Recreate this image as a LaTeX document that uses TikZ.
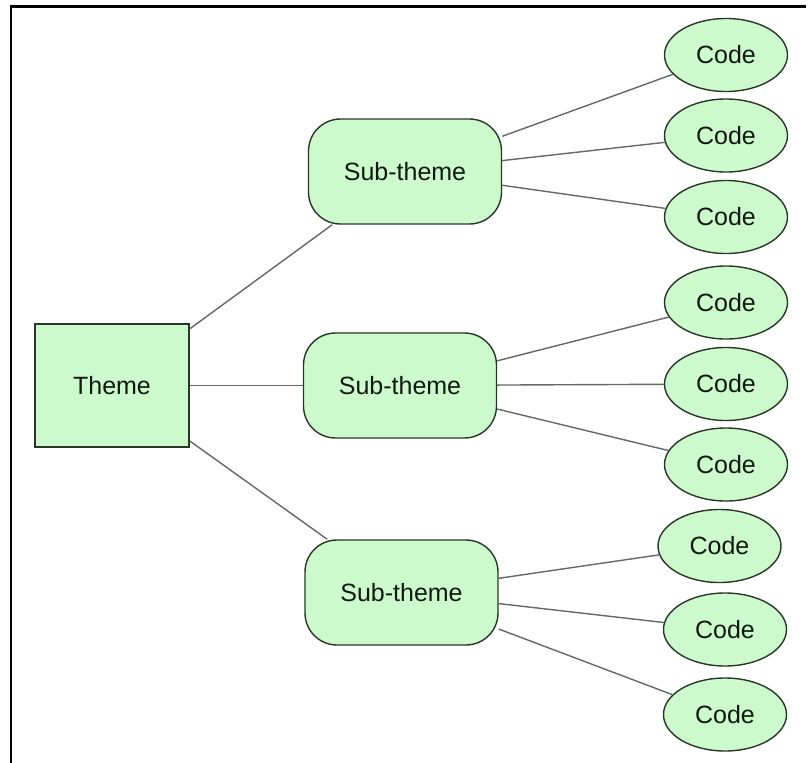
\documentclass[tikz,border=0pt]{standalone}
\usepackage{fontspec}
\setmainfont{Liberation Sans}
\usetikzlibrary{shapes.geometric}

\definecolor{boxfill}{RGB}{205,250,205}
\definecolor{boxline}{RGB}{40,55,40}
\definecolor{linkline}{RGB}{100,105,100}
\definecolor{labeltext}{RGB}{15,25,15}

\tikzset{
  base/.style={draw=boxline, fill=boxfill, line width=1.4pt, inner sep=0pt,
    text=labeltext, font=\fontsize{25}{30}\selectfont},
  themebox/.style={base, rectangle, minimum width=154pt, minimum height=123pt},
  subbox/.style={base, rectangle, rounded corners=32pt, minimum width=193pt, minimum height=105pt},
  codebox/.style={base, ellipse, minimum width=123pt, minimum height=73pt},
  link/.style={draw=linkline, line width=1.4pt},
  frameline/.style={draw=black, line width=2.8pt}
}

\begin{document}
\begin{tikzpicture}[x=1pt, y=-1pt]
  \useasboundingbox (0,0) rectangle (809,763);

  % outer frame (top and left sides)
  \draw[frameline] (11,763) -- (11,6.5) -- (806,6.5);

  % theme
  \node[themebox] (theme) at (112,385.5) {Theme};

  % sub-themes
  \node[subbox] (s1) at (405,171.5) {Sub-theme};
  \node[subbox] (s2) at (400,385.5) {Sub-theme};
  \node[subbox] (s3) at (401.5,592.5) {Sub-theme};

  % codes
  \node[codebox] (c1) at (726,55)    {Code};
  \node[codebox] (c2) at (726,135.5) {Code};
  \node[codebox] (c3) at (726,217)   {Code};
  \node[codebox] (c4) at (726,302.5) {Code};
  \node[codebox] (c5) at (726,384)   {Code};
  \node[codebox] (c6) at (726,464.5) {Code};
  \node[codebox] (c7) at (719.5,546) {Code};
  \node[codebox] (c8) at (725,629.5) {Code};
  \node[codebox] (c9) at (725,714.5) {Code};

  % connectors
  \draw[link] (theme) -- (s1);
  \draw[link] (theme) -- (s2);
  \draw[link] (theme) -- (s3);
  \draw[link] (s1) -- (c1);
  \draw[link] (s1) -- (c2);
  \draw[link] (s1) -- (c3);
  \draw[link] (s2) -- (c4);
  \draw[link] (s2) -- (c5);
  \draw[link] (s2) -- (c6);
  \draw[link] (s3) -- (c7);
  \draw[link] (s3) -- (c8);
  \draw[link] (s3) -- (c9);
\end{tikzpicture}
\end{document}
